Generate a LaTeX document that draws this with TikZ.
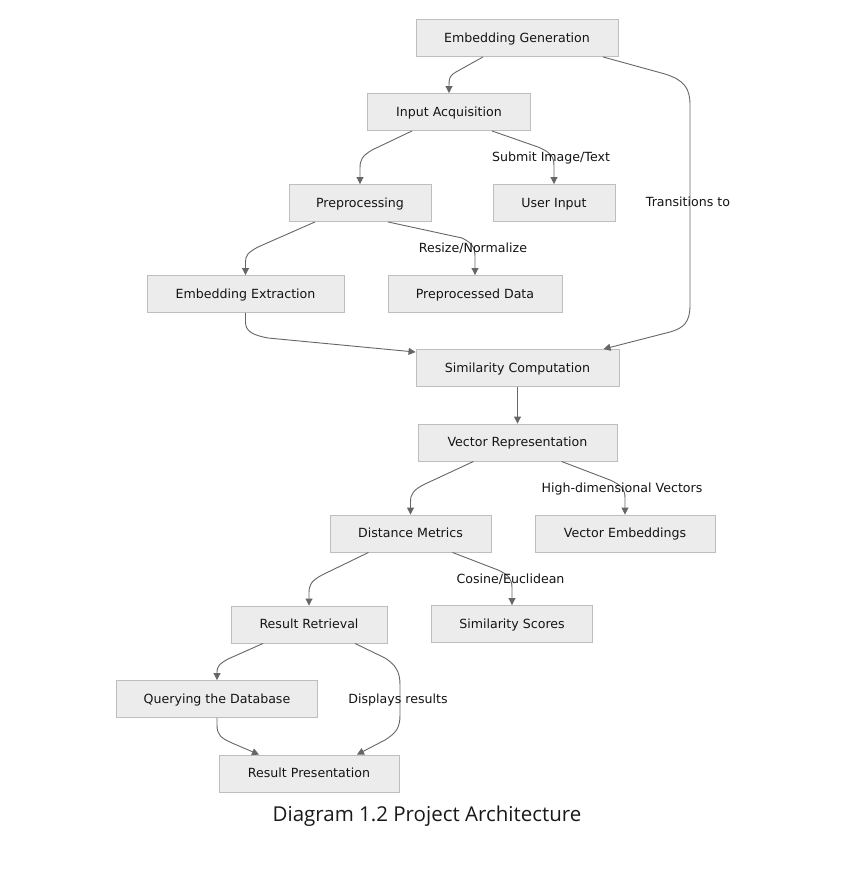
\documentclass[tikz,border=0pt]{standalone}
\usepackage{fontspec}
\setmainfont{DejaVu Sans}
\newfontfamily\capfont{Open Sans}
\usetikzlibrary{arrows.meta,calc}
\definecolor{boxfill}{RGB}{236,236,236}
\definecolor{boxdraw}{RGB}{190,190,190}
\definecolor{edgecol}{RGB}{102,102,102}
\definecolor{txt}{RGB}{20,20,20}
\begin{document}
\begin{tikzpicture}[x=1pt,y=-1pt,
  box/.style={draw=boxdraw, fill=boxfill, line width=0.9pt, minimum height=37pt, inner sep=0pt, text height=9pt, text depth=0.5pt, font=\fontsize{12.6}{14}\selectfont, text=txt},
  edge/.style={draw=edgecol, line width=0.9pt, -{Triangle[length=7pt,width=7pt]}},
  lbl/.style={font=\fontsize{12.6}{14}\selectfont, text=txt, inner sep=0pt, text height=9pt, text depth=0.5pt}]
\path[use as bounding box, fill=white] (0,0) rectangle (849,870);

\node[box, minimum width=202pt] (EG) at (517,38) {Embedding Generation};
\node[box, minimum width=163pt] (IA) at (449,112) {Input Acquisition};
\node[box, minimum width=122pt] (UI) at (554,203) {User Input};
\node[box, minimum width=142pt] (PR) at (360,203) {Preprocessing};
\node[box, minimum width=197pt] (EE) at (245.5,294) {Embedding Extraction};
\node[box, minimum width=174pt] (PD) at (475,294) {Preprocessed Data};
\node[box, minimum width=203pt] (SC) at (517.5,368) {Similarity Computation};
\node[box, minimum width=199pt] (VR) at (517.5,442.5) {Vector Representation};
\node[box, minimum width=161pt] (DM) at (410.5,533.5) {Distance Metrics};
\node[box, minimum width=180pt] (VE) at (625,533.5) {Vector Embeddings};
\node[box, minimum width=156pt] (RR) at (309,624.5) {Result Retrieval};
\node[box, minimum width=161pt] (SS) at (512,624) {Similarity Scores};
\node[box, minimum width=201pt] (QD) at (217,699) {Querying the Database};
\node[box, minimum width=180pt] (RP) at (309,773.5) {Result Presentation};

% edges
\draw[edge] ([xshift=-34pt]EG.south) -- (456,72) .. controls (449,76) and (449,79) .. (449,86) -- (IA.north);
\draw[edge] ([xshift=86pt]EG.south) -- (665,74) .. controls (684,80) and (690,88) .. (690,105) -- (690,305) .. controls (690,322) and (684,328) .. (670,332) -- ([xshift=86pt]SC.north);
\draw[edge] ([xshift=-37pt]IA.south) -- (372,150) .. controls (362,156) and (360,160) .. (360,168) -- (PR.north);
\draw[edge] ([xshift=43pt]IA.south) -- (538,147) .. controls (550,152) and (554,156) .. (554,166) -- (UI.north);
\draw[edge] ([xshift=-45pt]PR.south) -- (258,247) .. controls (247,253) and (245.5,256) .. (245.5,262) -- (EE.north);
\draw[edge] ([xshift=28pt]PR.south) -- (462,238) .. controls (472,243) and (475,247) .. (475,257) -- (PD.north);
\draw[edge] (EE.south) -- (245.5,322) .. controls (245.5,331) and (252,335) .. (268,338) -- ($(SC.north west)+(0,3)$);
\draw[edge] (SC.south) -- (VR.north);
\draw[edge] ([xshift=-44pt]VR.south) -- (425,484) .. controls (413,490) and (410.5,494) .. (410.5,502) -- (DM.north);
\draw[edge] ([xshift=44pt]VR.south) -- (610,480) .. controls (621,485) and (625,489) .. (625,498) -- (VE.north);
\draw[edge] ([xshift=-42pt]DM.south) -- (322,575) .. controls (311,581) and (309,585) .. (309,593) -- (RR.north);
\draw[edge] ([xshift=42pt]DM.south) -- (498,570) .. controls (509,575) and (512,579) .. (512,588) -- (SS.north);
\draw[edge] ([xshift=-46pt]RR.south) -- (228,659) .. controls (219,664) and (217,667) .. (217,672) -- (QD.north);
\draw[edge] ([xshift=46pt]RR.south) -- (385,658) .. controls (396,665) and (400,672) .. (400,685) -- (400,715) .. controls (400,728) and (396,733) .. (385,740) -- ([xshift=48pt]RP.north);
\draw[edge] (QD.south) -- (217,725) .. controls (217,735) and (221,738) .. (232,743) -- ([xshift=-50pt]RP.north);

% labels
\node[lbl] (l1) at (688,202) {Transitions to};
\node[lbl] (l2) at (551,157) {Submit Image/Text};
\node[lbl] (l3) at (473,248) {Resize/Normalize};
\node[lbl] (l4) at (622,488) {High-dimensional Vectors};
\node[lbl] (l5) at (510.5,579) {Cosine/Euclidean};
\node[lbl] (l6) at (398,699) {Displays results};

\node[font=\capfont\fontsize{20.5}{24}\selectfont, text=black!90, inner sep=0pt] (cap) at (427,816) {Diagram 1.2 Project Architecture};
\end{tikzpicture}
\end{document}
